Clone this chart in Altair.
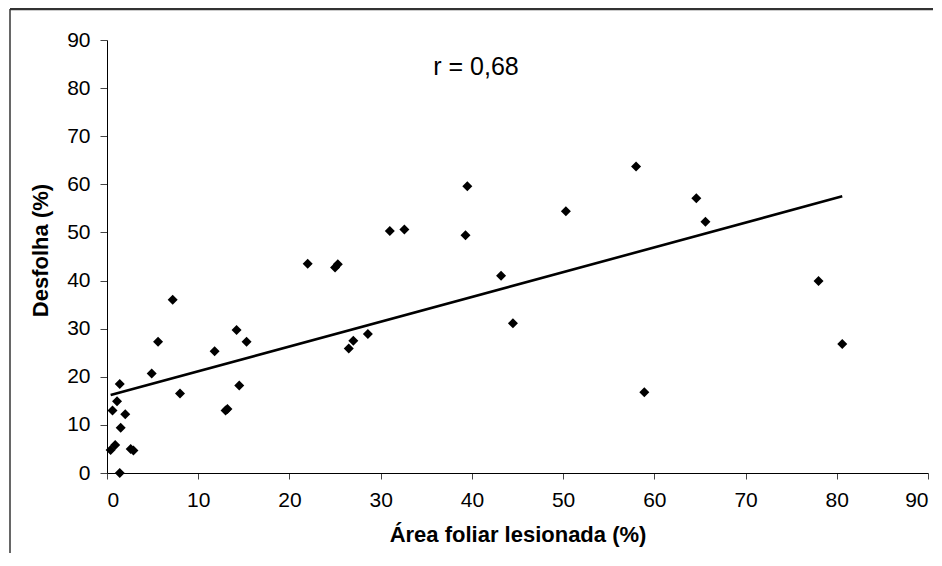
import altair as alt
import pandas as pd

# Área foliar lesionada (%)
area = [0.4, 0.9, 0.6, 1.1, 1.4, 1.5, 2.0, 1.4, 2.6, 2.9,
        4.9, 5.6, 7.2, 8.0, 11.8, 13.0, 13.2, 14.2, 14.5, 15.3,
        22.0, 25.0, 25.3, 26.5, 27.0, 28.6, 31.0, 32.6, 39.3, 39.5,
        43.2, 44.5, 50.3, 58.0, 58.9, 64.6, 65.6, 78.0, 80.6]
# Desfolha (%)
desfolha = [4.8, 5.8, 13.0, 14.9, 18.5, 9.4, 12.2, 0.0, 5.0, 4.7,
            20.7, 27.3, 36.0, 16.5, 25.3, 13.0, 13.3, 29.7, 18.2, 27.3,
            43.5, 42.7, 43.4, 25.9, 27.5, 28.9, 50.3, 50.6, 49.4, 59.6,
            41.0, 31.1, 54.4, 63.7, 16.8, 57.1, 52.2, 39.9, 26.8]

# fitted line as drawn in the figure (endpoints)
trend_x = [0.4, 80.6]
trend_y = [16.2, 57.5]

axis_ticks = [0, 10, 20, 30, 40, 50, 60, 70, 80, 90]
annotation = ["r = 0,68"]

df = pd.DataFrame({"x": area, "y": desfolha})
df_trend = pd.DataFrame({"x": trend_x, "y": trend_y})
FONT = "Liberation Sans"

xscale = alt.Scale(domain=[0, 90], nice=False, zero=True)
yscale = alt.Scale(domain=[0, 90], nice=False, zero=True)

xaxis = alt.Axis(values=axis_ticks, title="Área foliar lesionada (%)", grid=False,
                 domainColor="#000", tickColor="#444", tickSize=6, labelPadding=10,
                 labelFontSize=21, labelFont=FONT, labelColor="#000",
                 titleFont=FONT, titleFontSize=22, titleFontWeight="bold",
                 titleColor="#000", titlePadding=14)
yaxis = alt.Axis(values=axis_ticks, title="Desfolha (%)", grid=False,
                 domainColor="#000", tickColor="#444", tickSize=7, labelPadding=10,
                 labelFontSize=21, labelFont=FONT, labelColor="#000",
                 titleFont=FONT, titleFontSize=22, titleFontWeight="bold",
                 titleColor="#000", titleX=-55, titleY=210)

points = alt.Chart(df).mark_point(shape="diamond", filled=True, color="#000", size=100, opacity=1).encode(
    x=alt.X("x:Q", scale=xscale, axis=xaxis),
    y=alt.Y("y:Q", scale=yscale, axis=yaxis),
)

trend = alt.Chart(df_trend).mark_line(color="#000", strokeWidth=2.6).encode(
    x=alt.X("x:Q", scale=xscale),
    y=alt.Y("y:Q", scale=yscale),
)

label = alt.Chart(pd.DataFrame({"t": annotation})).mark_text(
    font=FONT, fontSize=25, color="#000", align="center", baseline="alphabetic"
).encode(text="t:N", x=alt.value(369), y=alt.value(35))

frame_left = alt.Chart(pd.DataFrame({"t": annotation})).mark_rule(color="#000", strokeWidth=1.2).encode(
    x=alt.value(-97), y=alt.value(-31), y2=alt.value(560))
frame_top = alt.Chart(pd.DataFrame({"t": annotation})).mark_rule(color="#333", strokeWidth=2.5).encode(
    x=alt.value(-97), x2=alt.value(900), y=alt.value(-31))

chart = alt.layer(frame_left, frame_top, trend, points, label).properties(
    width=821, height=433,
    autosize=alt.AutoSizeParams(type="none"),
    padding={"left": 99, "top": 32, "right": 5, "bottom": 80},
    background="white",
).configure_view(stroke=None)

chart.save("out.html", embed_options={"renderer": "svg", "actions": False})
